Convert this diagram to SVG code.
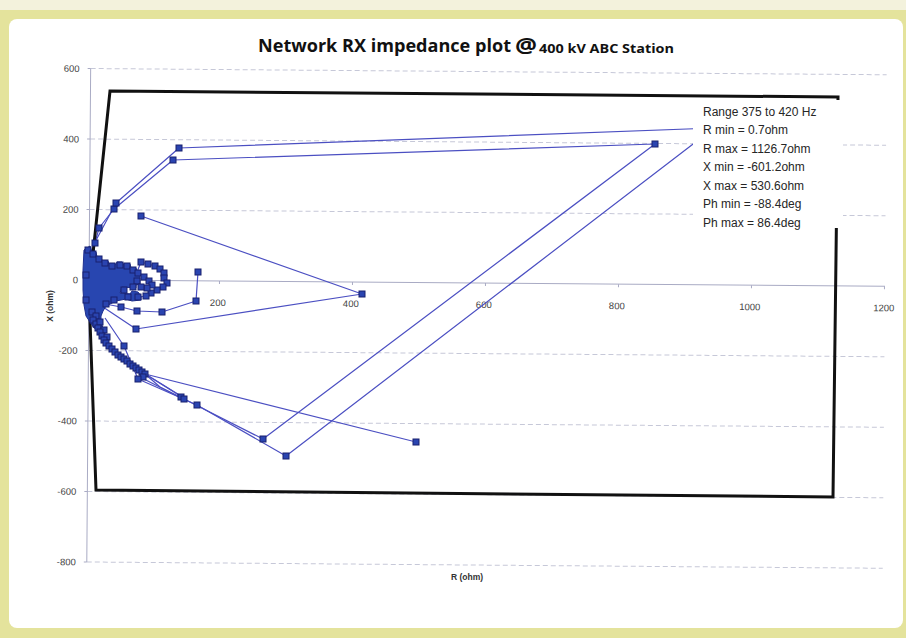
<svg xmlns="http://www.w3.org/2000/svg" width="906" height="638" viewBox="0 0 906 638">
<defs>
<style>
.grid{stroke:#c6c8d8;stroke-width:1;stroke-dasharray:5 3;fill:none}
.axis{stroke:#a9abc4;stroke-width:1;fill:none}
.tl{font-family:"Liberation Sans",Arial,sans-serif;font-size:9.5px;fill:#444}
.ser{fill:none;stroke:#4b4fc2;stroke-width:1.2;stroke-linejoin:round}
.mk{fill:#2a44b0;stroke:#18216f;stroke-width:1}
.leg{font-family:"Liberation Sans",Arial,sans-serif;font-size:12px;fill:#262626}
.at{font-family:"Liberation Sans",Arial,sans-serif;font-size:8.5px;font-weight:bold;fill:#333}
.ttl{font-family:"Open Sans","Liberation Sans",sans-serif;font-weight:bold;fill:#111}
</style>
<rect id="m" class="mk" x="-3" y="-3" width="6" height="6"/>
</defs>

<g id="frame">
<rect width="906" height="638" fill="#e4e39c"/>
<rect x="0" y="0" width="906" height="10" fill="#f3f2dc"/>
<rect x="9" y="19" width="894" height="609" rx="8" fill="#ffffff"/>
</g>

<g id="title">
<text class="ttl" x="258" y="52" font-size="17" textLength="253" lengthAdjust="spacingAndGlyphs">Network RX impedance plot</text>
<text class="ttl" x="515" y="53" font-size="21" font-weight="600" textLength="22" lengthAdjust="spacingAndGlyphs">@</text>
<text class="ttl" x="539" y="53" font-size="12.5" textLength="135" lengthAdjust="spacingAndGlyphs">400 kV ABC Station</text>
</g>

<g id="axes" transform="rotate(0.45 89 280)">
<path class="grid" d="M89 68.5H885M89 139H885M89 209.5H885M89 350.5H885M89 421H885M89 491.5H885M89 562H885"/>
<path class="axis" d="M89 280H885M89 68.5V562"/>
<path class="axis" d="M86 68.5H89M86 139H89M86 209.5H89M86 280H89M86 350.5H89M86 421H89M86 491.5H89M86 562H89M219.5 280V283M352.5 280V283M485.5 280V283M618.5 280V283M751.5 280V283M884.5 280V283"/>
<g class="tl" text-anchor="end">
<text x="78" y="72">600</text>
<text x="78" y="142.5">400</text>
<text x="78" y="213">200</text>
<text x="78" y="283.5">0</text>
<text x="78" y="354">-200</text>
<text x="78" y="424.5">-400</text>
<text x="78" y="495">-600</text>
<text x="78" y="565.5">-800</text>
</g>
<g class="tl" text-anchor="middle">
<text x="218" y="305">200</text>
<text x="351" y="305">400</text>
<text x="484" y="305">600</text>
<text x="617" y="305">800</text>
<text x="750" y="305">1000</text>
<text x="884" y="305">1200</text>
</g>
</g>

<g id="axis-titles">
<text class="at" transform="translate(53 306) rotate(-90)" text-anchor="middle">X (ohm)</text>
<text class="at" x="467" y="580" text-anchor="middle">R (ohm)</text>
</g>

<g id="connectors">
<polyline class="ser" points="92,262 95,243 99,228 114,209 173,160 655,144 263,439 182,398 160,387 145,374"/>
<polyline class="ser" points="90,258 94,244 116,203 179,148 714,128 286,456 197,405 138,379 124,346 105,318"/>
<polyline class="ser" points="145,374 416,442"/>
<polyline class="ser" points="141,216 362,294 136,329 103,307"/>
<polyline class="ser" points="100,303 121,307 137,311 162,312 196,301 198,272"/>
<polyline class="ser" points="142,372 182,397"/>
<polyline class="ser" points="140,377 183,399"/>
<polyline class="ser" points="134,367 181,396"/>
<polyline class="ser" points="135,277 141,262 148,264 155,266 160,269 164,273 164,278 167,283 163,287 157,290 151,293 146,296 140,297"/>
<polyline class="ser" points="136,272 138,273 144,277 149,281 152,285 147,288 141,287"/>
</g>

<g id="black-boundary">
<polygon points="110,91 838,97 833,497 96,490 89,292" fill="none" stroke="#111" stroke-width="3" stroke-linejoin="miter"/>
</g>

<g id="series">
<polygon points="84,250 90,246 92,252 96,252 97,257 101,257 102,261 108,261 109,264 116,264 117,262 122,262 123,264 130,264 131,268 136,268 137,273 140,276 140,284 136,285 136,288 122,287 120,293 130,294 132,291 138,292 141,296 141,300 132,301 126,299 116,301 110,304 106,306 103,311 101,316 101,322 103,328 99,330 94,328 90,322 86,316 84,305 83,290 83,270" fill="#2846b0" stroke="#1e2f8e" stroke-width="1"/>
<use href="#m" x="88" y="250"/><use href="#m" x="93" y="254"/><use href="#m" x="99" y="259"/><use href="#m" x="105" y="263"/><use href="#m" x="112" y="266"/><use href="#m" x="120" y="265"/><use href="#m" x="127" y="266"/><use href="#m" x="133" y="270"/><use href="#m" x="137" y="281"/><use href="#m" x="133" y="287"/><use href="#m" x="124" y="290"/><use href="#m" x="138" y="297"/><use href="#m" x="128" y="297"/><use href="#m" x="114" y="300"/><use href="#m" x="106" y="304"/><use href="#m" x="86" y="300"/><use href="#m" x="86" y="275"/>
<use href="#m" x="92" y="312"/><use href="#m" x="96" y="316"/><use href="#m" x="93" y="320"/><use href="#m" x="96" y="324"/><use href="#m" x="100" y="322"/><use href="#m" x="98" y="328"/><use href="#m" x="104" y="330"/><use href="#m" x="100" y="332"/><use href="#m" x="102" y="336"/><use href="#m" x="107" y="337"/><use href="#m" x="104" y="340"/><use href="#m" x="106" y="343"/><use href="#m" x="109" y="346"/><use href="#m" x="112" y="349"/><use href="#m" x="115" y="352"/><use href="#m" x="118" y="355"/><use href="#m" x="121" y="357"/><use href="#m" x="124" y="359"/><use href="#m" x="127" y="361"/><use href="#m" x="130" y="364"/><use href="#m" x="133" y="366"/><use href="#m" x="136" y="368"/><use href="#m" x="139" y="370"/><use href="#m" x="142" y="372"/><use href="#m" x="145" y="374"/><use href="#m" x="143" y="377"/>
<use href="#m" x="141" y="262"/><use href="#m" x="148" y="264"/><use href="#m" x="155" y="266"/><use href="#m" x="160" y="269"/><use href="#m" x="164" y="273"/><use href="#m" x="164" y="278"/><use href="#m" x="167" y="283"/><use href="#m" x="163" y="287"/><use href="#m" x="157" y="290"/><use href="#m" x="151" y="293"/><use href="#m" x="146" y="296"/>
<use href="#m" x="138" y="273"/><use href="#m" x="144" y="277"/><use href="#m" x="149" y="281"/><use href="#m" x="152" y="285"/><use href="#m" x="147" y="288"/><use href="#m" x="141" y="287"/>
<use href="#m" x="95" y="243"/><use href="#m" x="99" y="228"/><use href="#m" x="114" y="209"/><use href="#m" x="116" y="203"/><use href="#m" x="173" y="160"/><use href="#m" x="179" y="148"/><use href="#m" x="655" y="144"/>
<use href="#m" x="141" y="216"/><use href="#m" x="362" y="294"/><use href="#m" x="136" y="329"/>
<use href="#m" x="121" y="307"/><use href="#m" x="137" y="311"/><use href="#m" x="162" y="312"/><use href="#m" x="196" y="301"/><use href="#m" x="198" y="272"/>
<use href="#m" x="124" y="346"/><use href="#m" x="138" y="379"/><use href="#m" x="181" y="397"/><use href="#m" x="184" y="399"/><use href="#m" x="197" y="405"/><use href="#m" x="263" y="439"/><use href="#m" x="286" y="456"/><use href="#m" x="416" y="442"/>
</g>

<g id="legend">
<rect x="693" y="100" width="150" height="128" fill="#ffffff"/>
<text class="leg" x="703" y="116">Range 375 to 420 Hz</text>
<text class="leg" x="703" y="134">R min = 0.7ohm</text>
<text class="leg" x="703" y="152.5">R max = 1126.7ohm</text>
<text class="leg" x="703" y="171">X min = -601.2ohm</text>
<text class="leg" x="703" y="189.5">X max = 530.6ohm</text>
<text class="leg" x="703" y="208">Ph min = -88.4deg</text>
<text class="leg" x="703" y="226.5">Ph max = 86.4deg</text>
</g>
</svg>
